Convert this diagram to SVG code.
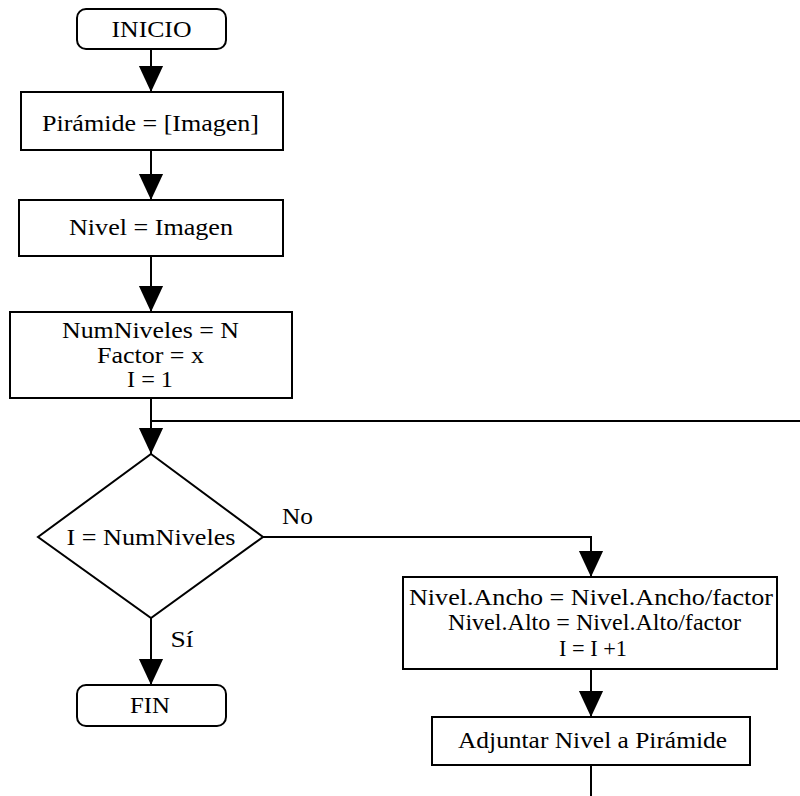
<svg xmlns="http://www.w3.org/2000/svg" width="800" height="796" viewBox="0 0 800 796">
<defs>
<marker id="ah" markerUnits="userSpaceOnUse" markerWidth="26" markerHeight="30" refX="28" refY="13" orient="auto" viewBox="0 0 28 26">
<path d="M0,0 L28,13 L0,26 Z" fill="#000"/>
</marker>
<style>
.s{fill:#fff;stroke:#000;stroke-width:2}
.c{fill:none;stroke:#000;stroke-width:2}
</style>
</defs>
<rect width="800" height="796" fill="#fff"/>
<g font-family="Liberation Serif, Times New Roman, serif" font-size="23" text-anchor="middle" fill="#000">
<g id="connectors">
<line class="c" x1="151" y1="50" x2="151" y2="92" marker-end="url(#ah)"/>
<line class="c" x1="151" y1="150" x2="151" y2="200" marker-end="url(#ah)"/>
<line class="c" x1="151" y1="256" x2="151" y2="312" marker-end="url(#ah)"/>
<line class="c" x1="151" y1="398" x2="151" y2="454" marker-end="url(#ah)"/>
<line class="c" x1="151" y1="421" x2="800" y2="421"/>
<line class="c" x1="151" y1="618" x2="151" y2="685" marker-end="url(#ah)"/>
<polyline class="c" points="263,537 591,537 591,577" marker-end="url(#ah)"/>
<line class="c" x1="591" y1="669" x2="591" y2="717" marker-end="url(#ah)"/>
<line class="c" x1="591" y1="765" x2="591" y2="796"/>
<text x="297.5" y="524" textLength="31" lengthAdjust="spacingAndGlyphs">No</text>
<text x="182" y="647" textLength="23" lengthAdjust="spacingAndGlyphs">Sí</text>
</g>
<g id="inicio">
<rect class="s" x="77" y="9" width="149" height="40" rx="9"/>
<text x="151.5" y="37" textLength="80" lengthAdjust="spacingAndGlyphs">INICIO</text>
</g>
<g id="piramide">
<rect class="s" x="21" y="92" width="262" height="58"/>
<text x="150.5" y="131" textLength="217" lengthAdjust="spacingAndGlyphs">Pirámide = [Imagen]</text>
</g>
<g id="nivel">
<rect class="s" x="19" y="200" width="264" height="56"/>
<text x="151" y="235" textLength="164" lengthAdjust="spacingAndGlyphs">Nivel = Imagen</text>
</g>
<g id="init">
<rect class="s" x="10" y="312" width="282" height="86"/>
<text x="150.5" y="338" textLength="177" lengthAdjust="spacingAndGlyphs">NumNiveles = N</text>
<text x="150.5" y="363" textLength="107" lengthAdjust="spacingAndGlyphs">Factor = x</text>
<text x="150" y="387" textLength="46" lengthAdjust="spacingAndGlyphs">I = 1</text>
</g>
<g id="decision">
<polygon class="s" points="151,454 263,537 151,618 38,537"/>
<text x="151" y="545" textLength="169" lengthAdjust="spacingAndGlyphs">I = NumNiveles</text>
</g>
<g id="fin">
<rect class="s" x="77" y="685" width="149" height="41" rx="9"/>
<text x="150" y="713" textLength="40" lengthAdjust="spacingAndGlyphs">FIN</text>
</g>
<g id="update">
<rect class="s" x="403" y="577" width="374" height="92"/>
<text x="591" y="605" textLength="364" lengthAdjust="spacingAndGlyphs">Nivel.Ancho = Nivel.Ancho/factor</text>
<text x="594.5" y="630" textLength="293" lengthAdjust="spacingAndGlyphs">Nivel.Alto = Nivel.Alto/factor</text>
<text x="593" y="656" textLength="68" lengthAdjust="spacingAndGlyphs">I = I +1</text>
</g>
<g id="adjuntar">
<rect class="s" x="432" y="717" width="318" height="48"/>
<text x="592.5" y="748" textLength="269" lengthAdjust="spacingAndGlyphs">Adjuntar Nivel a Pirámide</text>
</g>
</g>
</svg>
